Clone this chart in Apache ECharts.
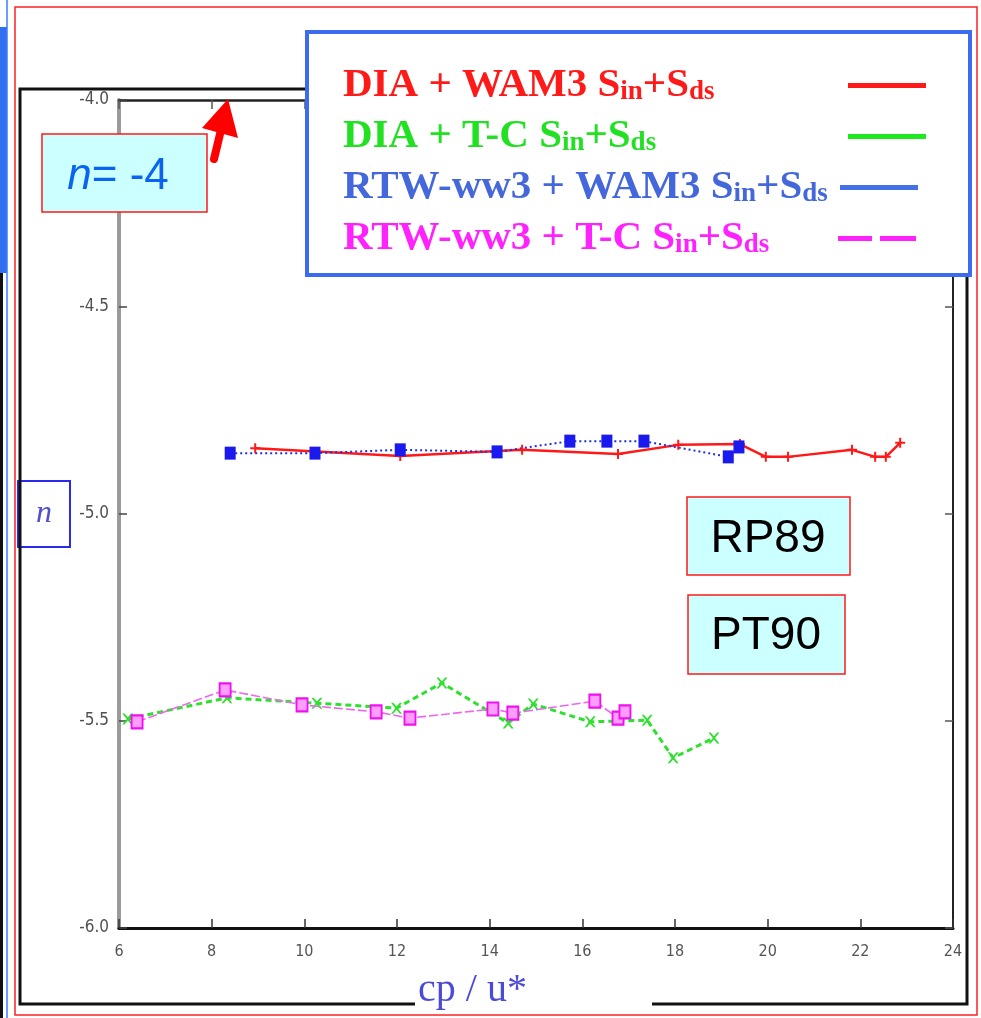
<!DOCTYPE html>
<html>
<head>
<meta charset="utf-8">
<script src="https://cdn.jsdelivr.net/npm/echarts@6/dist/echarts.min.js"></script>
<style>
  html, body { margin: 0; padding: 0; background: #fff; }
  #chart { width: 981px; height: 1018px; }
</style>
</head>
<body>
<div id="chart"></div>
<script>
// Exponent n versus inverse wave age cp/u* for four source-term combinations
const seriesNames = [
  'DIA + WAM3 Sin+Sds',
  'DIA + T-C Sin+Sds',
  'RTW-ww3 + WAM3 Sin+Sds',
  'RTW-ww3 + T-C Sin+Sds'
];
// legend text split into normal / subscript pieces
const legendParts = [
  ['DIA + WAM3 S', 'in', '+S', 'ds'],
  ['DIA + T-C S', 'in', '+S', 'ds'],
  ['RTW-ww3 + WAM3 S', 'in', '+S', 'ds'],
  ['RTW-ww3 + T-C S', 'in', '+S', 'ds']
];
const xTickValues = [6, 8, 10, 12, 14, 16, 18, 20, 22, 24];
const yTickValues = [-6.0, -5.5, -5.0, -4.5, -4.0];

// DIA + WAM3
const diaWam3X = [8.94, 12.07, 14.70, 16.77, 18.07, 19.40, 19.96, 20.44, 21.82, 22.32, 22.55, 22.86];
const diaWam3N = [-4.841, -4.860, -4.845, -4.855, -4.833, -4.831, -4.862, -4.862, -4.845, -4.862, -4.862, -4.828];
// DIA + T-C
const diaTcX = [6.19, 8.33, 10.27, 11.99, 12.97, 14.40, 14.94, 16.17, 17.40, 17.96, 18.84];
const diaTcN = [-5.495, -5.444, -5.457, -5.469, -5.408, -5.505, -5.459, -5.502, -5.498, -5.589, -5.541];
// RTW-ww3 + WAM3
const rtwWam3X = [8.40, 10.23, 12.07, 14.16, 15.73, 16.53, 17.33, 19.15, 19.38];
const rtwWam3N = [-4.853, -4.853, -4.845, -4.850, -4.824, -4.824, -4.824, -4.862, -4.838];
// RTW-ww3 + T-C
const rtwTcX = [6.39, 8.29, 9.95, 11.55, 12.28, 14.07, 14.50, 16.27, 16.77, 16.92];
const rtwTcN = [-5.502, -5.425, -5.461, -5.478, -5.493, -5.471, -5.481, -5.452, -5.493, -5.478];

const zip = (xs, ys) => xs.map((x, i) => [x, ys[i]]);

const lineColors = ['#ff1818', '#2ee02e', '#1f2fe0', '#ee66ee'];
const legendTextColors = ['#ff1a1a', '#22e022', '#4468dc', '#ff22ff'];
const legendSampleColors = ['#ff1a1a', '#1ee81e', '#4470e8', '#ff22ff'];
const serifFont = '"Liberation Serif", "Times New Roman", serif';
const sansFont = '"Liberation Sans", Arial, sans-serif';
const narrowFont = '"Liberation Sans Narrow", "DejaVu Sans Condensed", "Liberation Sans", sans-serif';

// legend rows: text block widths so that each line sample lands where it should
const MAIN_SIZE = 41, SUB_SIZE = 27;
const legendBoxWidths = [500, 500, 492, 490];
const legendRowTops = [65, 116, 167, 218];
const measureCtx = document.createElement('canvas').getContext('2d');
function textWidth(str, size) {
  measureCtx.font = 'normal bold ' + size + 'px ' + serifFont;
  return measureCtx.measureText(str).width;
}
const rich = {};
legendParts.forEach((p, i) => {
  const w = textWidth(p[0], MAIN_SIZE) + textWidth(p[1], SUB_SIZE) +
            textWidth(p[2], MAIN_SIZE) + textWidth(p[3], SUB_SIZE);
  rich['m' + i] = { fontSize: MAIN_SIZE, lineHeight: 40, fontWeight: 'bold', fontFamily: serifFont, color: legendTextColors[i] };
  rich['s' + i] = { fontSize: SUB_SIZE, lineHeight: 16, verticalAlign: 'bottom', fontWeight: 'bold', fontFamily: serifFont, color: legendTextColors[i] };
  rich['p' + i] = { width: Math.max(1, legendBoxWidths[i] - w), fontSize: MAIN_SIZE, lineHeight: 40 };
});
function legendLabel(name) {
  const i = seriesNames.indexOf(name);
  const p = legendParts[i];
  return '{m' + i + '|' + p[0] + '}{s' + i + '|' + p[1] + '}{m' + i + '|' + p[2] + '}{s' + i + '|' + p[3] + '}{p' + i + '| }';
}

const plusPath = 'path://M4,0H6V4H10V6H6V10H4V6H0V4H4Z';
const crossPath = 'path://M0,0L2,0L5,3.5L8,0L10,0L6,5L10,10L8,10L5,6.5L2,10L0,10L4,5Z';
const dashIcon = 'path://M0,0H34V5H0Z M42,0H78V5H42Z';

const legends = seriesNames.map((n, i) => ({
  orient: 'horizontal',
  align: 'right',
  left: 343,
  top: legendRowTops[i],
  padding: 0,
  itemWidth: 78,
  itemHeight: 5,
  selectedMode: false,
  data: [{ name: n, icon: i === 3 ? dashIcon : 'rect', itemStyle: { color: legendSampleColors[i], borderWidth: 0 } }],
  formatter: legendLabel,
  textStyle: { rich: rich }
}));

const chart = echarts.init(document.getElementById('chart'), null, { renderer: 'canvas' });

const option = {
  animation: false,
  backgroundColor: '#ffffff',
  grid: { left: 119, right: 28, top: 100, bottom: 90, containLabel: false, outerBoundsMode: 'none' },
  legend: legends,
  xAxis: [
    {
      type: 'value', position: 'bottom', min: 6, max: 24, interval: 2,
      axisLine: { onZero: false, lineStyle: { color: '#111', width: 3 } },
      axisTick: { inside: true, length: 9, lineStyle: { color: '#333', width: 1.5 } },
      axisLabel: {
        margin: 16, fontSize: 16, color: '#555', fontFamily: narrowFont,
        formatter: v => (xTickValues.indexOf(v) >= 0 ? String(v) : '')
      },
      splitLine: { show: false },
      name: 'cp / u*',
      nameLocation: 'middle',
      nameGap: 40,
      nameTextStyle: { fontFamily: serifFont, fontSize: 40, color: '#4b4bd8', padding: [0, 127, 0, 0], lineHeight: 44 }
    },
    {
      type: 'value', position: 'top', min: 6, max: 24, interval: 2,
      axisLine: { onZero: false, lineStyle: { color: '#222', width: 2.5 } },
      axisTick: { inside: true, length: 9, lineStyle: { color: '#555', width: 1.5 } },
      axisLabel: { show: false },
      splitLine: { show: false }
    }
  ],
  yAxis: [
    {
      type: 'value', position: 'left', min: -6, max: -4, interval: 0.5,
      axisLine: { onZero: false, lineStyle: { color: '#9a9a9a', width: 4 } },
      axisTick: { inside: true, length: 8, lineStyle: { color: '#444', width: 1.5 } },
      axisLabel: {
        margin: 10, fontSize: 17, color: '#505050', fontFamily: narrowFont,
        formatter: v => (yTickValues.indexOf(v) >= 0 ? Number(v).toFixed(1) : '')
      },
      splitLine: { show: false },
      name: 'n',
      nameLocation: 'middle',
      nameRotate: 0,
      nameGap: 50,
      nameTextStyle: {
        fontFamily: serifFont, fontStyle: 'italic', fontSize: 32, lineHeight: 30,
        color: '#5050cc', backgroundColor: '#ffffff',
        borderColor: '#2a2aee', borderWidth: 2, padding: [17, 17, 17, 17]
      }
    },
    {
      type: 'value', position: 'right', min: -6, max: -4, interval: 0.5,
      axisLine: { onZero: false, lineStyle: { color: '#222', width: 2 } },
      axisTick: { inside: true, length: 8, lineStyle: { color: '#555', width: 1.5 } },
      axisLabel: { show: false },
      splitLine: { show: false }
    }
  ],
  series: [
    {
      name: seriesNames[0], type: 'line', xAxisIndex: 0, yAxisIndex: 0,
      data: zip(diaWam3X, diaWam3N),
      symbol: plusPath, symbolSize: 10,
      lineStyle: { color: lineColors[0], width: 2.5 },
      itemStyle: { color: lineColors[0] }, z: 3
    },
    {
      name: seriesNames[1], type: 'line', xAxisIndex: 0, yAxisIndex: 0,
      data: zip(diaTcX, diaTcN),
      symbol: crossPath, symbolSize: 11,
      lineStyle: { color: lineColors[1], width: 3, type: [6, 4] },
      itemStyle: { color: lineColors[1] }, z: 2
    },
    {
      name: seriesNames[2], type: 'line', xAxisIndex: 0, yAxisIndex: 0,
      data: zip(rtwWam3X, rtwWam3N),
      symbol: 'rect', symbolSize: [11, 13],
      lineStyle: { color: lineColors[2], width: 2, type: [2, 3] },
      itemStyle: { color: '#1a1aee' }, z: 3
    },
    {
      name: seriesNames[3], type: 'line', xAxisIndex: 0, yAxisIndex: 0,
      data: zip(rtwTcX, rtwTcN),
      symbol: 'rect', symbolSize: [11, 13],
      lineStyle: { color: lineColors[3], width: 1.6, type: [9, 3] },
      itemStyle: { color: '#ff9cff', borderColor: '#ee10ee', borderWidth: 2 }, z: 3
    }
  ],
  graphic: {
    elements: [
      // page edges
      { type: 'rect', z: 1, shape: { x: 0, y: 27, width: 7, height: 246 }, style: { fill: '#2f6ff0' } },
      { type: 'line', z: 1, shape: { x1: 7, y1: 0, x2: 7, y2: 1018 }, style: { stroke: '#3b7bff', lineWidth: 1.5 } },
      { type: 'line', z: 1, shape: { x1: 1.5, y1: 273, x2: 1.5, y2: 1018 }, style: { stroke: '#111', lineWidth: 3 } },
      { type: 'rect', z: 1, shape: { x: 15, y: 7, width: 962, height: 1008 }, style: { fill: null, stroke: '#ff2020', lineWidth: 1.5 } },
      // outer frame
      { type: 'polyline', z: 1, shape: { points: [[307, 89], [20, 89], [20, 1004], [415, 1004]] }, style: { fill: null, stroke: '#111', lineWidth: 3 } },
      { type: 'polyline', z: 1, shape: { points: [[652, 1004], [967, 1004], [967, 277]] }, style: { fill: null, stroke: '#111', lineWidth: 3 } },
      // legend panel (legend rows sit above it)
      { type: 'rect', z: 3, shape: { x: 307, y: 32, width: 663, height: 243 }, style: { fill: '#ffffff', stroke: '#3d6bf0', lineWidth: 4 } },
      // n = -4 box
      { type: 'rect', z: 10, shape: { x: 42, y: 134, width: 165, height: 78 }, style: { fill: '#ccffff', stroke: '#ff1a1a', lineWidth: 1.5 } },
      {
        type: 'text', z: 11, x: 118, y: 177,
        style: {
          text: '{i|n}{r|= -4}', align: 'center', verticalAlign: 'middle',
          rich: {
            i: { fontFamily: sansFont, fontStyle: 'italic', fontSize: 44, fill: '#0a64f0' },
            r: { fontFamily: sansFont, fontSize: 44, fill: '#0a64f0' }
          }
        }
      },
      // arrow pointing at the top of the axis
      { type: 'line', z: 10, shape: { x1: 214, y1: 159, x2: 221, y2: 130 }, style: { stroke: '#ff0000', lineWidth: 8, lineCap: 'round' } },
      { type: 'polygon', z: 10, shape: { points: [[228, 99], [202, 128], [238, 138]] }, style: { fill: '#ff0000' } },
      // reference labels
      { type: 'rect', z: 10, shape: { x: 687, y: 497, width: 163, height: 78 }, style: { fill: '#ccffff', stroke: '#ff1a1a', lineWidth: 1.5 } },
      { type: 'text', z: 11, x: 768, y: 539, style: { text: 'RP89', align: 'center', verticalAlign: 'middle', fontFamily: sansFont, fontSize: 46, fill: '#000' } },
      { type: 'rect', z: 10, shape: { x: 688, y: 595, width: 157, height: 79 }, style: { fill: '#ccffff', stroke: '#ff1a1a', lineWidth: 1.5 } },
      { type: 'text', z: 11, x: 766, y: 636, style: { text: 'PT90', align: 'center', verticalAlign: 'middle', fontFamily: sansFont, fontSize: 46, fill: '#000' } }
    ]
  }
};

chart.setOption(option);
</script>
</body>
</html>
